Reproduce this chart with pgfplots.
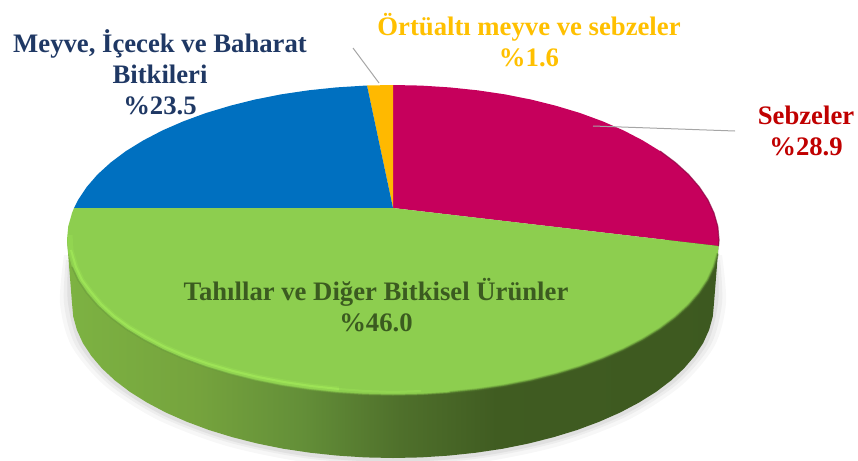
\documentclass[border=0pt]{standalone}
\usepackage{fontspec}
\setmainfont{Liberation Serif}
\usepackage{pgfplots}
\pgfplotsset{compat=1.18}
\definecolor{kirmizi}{HTML}{C6005C}
\definecolor{mavi}{HTML}{0070C0}
\definecolor{sari}{HTML}{FFB900}
\definecolor{yesil}{HTML}{8DCE4F}
\definecolor{parlak}{HTML}{A0E658}
\definecolor{yazikirmizi}{HTML}{C00000}
\definecolor{yazimavi}{HTML}{1F3864}
\definecolor{yazisari}{HTML}{FFC000}
\definecolor{yaziyesil}{HTML}{3B5B20}
\pgfdeclarehorizontalshading{yan}{100bp}{
  rgb(0bp)=(0.49,0.70,0.26);
  rgb(25bp)=(0.49,0.70,0.26);
  rgb(35bp)=(0.46,0.64,0.24);
  rgb(43bp)=(0.39,0.56,0.22);
  rgb(50.5bp)=(0.31,0.44,0.17);
  rgb(58bp)=(0.25,0.36,0.13);
  rgb(75bp)=(0.24,0.35,0.125);
  rgb(100bp)=(0.24,0.35,0.125)}
\begin{document}
\begin{tikzpicture}
\useasboundingbox (0,0) rectangle (858pt,460pt);
\clip (0,0) rectangle (858pt,460pt);
\begin{axis}[
  at={(0,0)}, anchor=south west,
  width=858pt, height=460pt, scale only axis,
  xmin=0, xmax=858, ymin=0, ymax=460,
  y dir=reverse,
  hide axis,
]
% golge
\addplot[draw=none, fill=black!3, smooth] coordinates {
  (64,255) (60,303) (71.4,345.7) (104.6,385.5) (157.5,419.7) (226.5,445.9) (306.8,462.4) (393,468)
  (479.2,462.4) (559.5,445.9) (628.5,419.7) (681.4,385.5) (714.6,345.7) (726,303) (722,255)};
\addplot[draw=none, fill=black!7, smooth] coordinates {
  (66,260) (64,303) (75.2,344.7) (108.1,383.5) (160.4,416.8) (228.5,442.4) (307.9,458.5) (393,464)
  (478.1,458.5) (557.5,442.4) (625.6,416.8) (677.9,383.5) (710.8,344.7) (722,303) (720,260)};
\addplot[draw=none, fill=black!12, smooth] coordinates {
  (68,265) (68,303) (79.1,344.2) (111.5,382.5) (163.2,415.4) (230.5,440.7) (308.9,456.6) (393,462)
  (477.1,456.6) (555.5,440.7) (622.8,415.4) (674.5,382.5) (706.9,344.2) (718,303) (718,265)};
% yan yuzey
\addplot[draw=none, shading=yan] coordinates {
  (67,240) (72,303) (73.2,316.5) (76.9,329.9) (82.9,343.1) (91.4,356) (102.1,368.5) (115,380.5)
  (130,391.9) (147.1,402.6) (166,412.6) (186.7,421.7) (208.9,430) (232.5,437.2) (257.3,443.5)
  (283.2,448.7) (309.9,452.7) (337.3,455.6) (365,457.4) (393,458) (421,457.4) (448.7,455.6)
  (476.1,452.7) (502.8,448.7) (528.7,443.5) (553.5,437.2) (577.1,430) (599.3,421.7) (620,412.6)
  (638.9,402.6) (656,391.9) (671,380.5) (683.9,368.5) (694.6,356) (703.1,343.1) (709.1,329.9)
  (712.8,316.5) (714,303) (719,240)} --cycle;
% dilimler
\addplot[draw=none, fill=kirmizi] coordinates {
  (393,208) (393,85) (421.4,85.6) (449.6,87.4) (477.4,90.3) (504.5,94.3) (530.8,99.5) (556,105.8)
  (580,113) (602.6,121.3) (623.5,130.4) (642.7,140.4) (660.1,151.1) (675.3,162.5) (688.5,174.5)
  (699.3,187) (707.9,199.9) (714,213.1) (717.8,226.5) (719,240) (718.5,246)} --cycle;
\addplot[draw=none, fill=sari] coordinates {
  (393,208) (367,85.5) (393,85)} --cycle;
\addplot[draw=none, fill=mavi] coordinates {
  (393,208) (367,85.5) (336.4,87.4) (308.6,90.3) (281.5,94.3) (255.2,99.5) (230,105.8) (206,113)
  (183.4,121.3) (162.5,130.4) (143.3,140.4) (125.9,151.1) (110.7,162.5) (97.5,174.5) (86.7,187)
  (78.1,199.9) (74,208)} --cycle;
\addplot[draw=none, fill=yesil] coordinates {
  (393,208) (74,208) (72,213.1) (68.2,226.5) (67,240) (68.2,253.5) (72,266.9) (78.1,280.1)
  (86.7,293) (97.5,305.5) (110.7,317.5) (125.9,328.9) (143.3,339.6) (162.5,349.6) (183.4,358.7)
  (206,367) (230,374.2) (255.2,380.5) (281.5,385.7) (308.6,389.7) (336.4,392.6) (364.6,394.4)
  (393,395) (421.4,394.4) (449.6,392.6) (477.4,389.7) (504.5,385.7) (530.8,380.5) (556,374.2)
  (580,367) (602.6,358.7) (623.5,349.6) (642.7,339.6) (660.1,328.9) (675.3,317.5) (688.5,305.5)
  (699.3,293) (707.9,280.1) (714,266.9) (717.8,253.5) (718.5,246)} --cycle;
% kenar
\addplot[color=kirmizi!70!black, line width=1.2pt, opacity=.7] coordinates {
  (660.1,151.1) (675.3,162.5) (688.5,174.5) (699.3,187) (707.9,199.9) (714,213.1) (717.8,226.5) (719,240) (718.5,246)};
\addplot[color=yesil!60!black, line width=3pt, opacity=.25] coordinates {
  (449.6,392.6) (477.4,389.7) (504.5,385.7) (530.8,380.5) (556,374.2) (580,367) (602.6,358.7)
  (623.5,349.6) (642.7,339.6) (660.1,328.9) (675.3,317.5) (688.5,305.5) (699.3,293) (707.9,280.1) (714,266.9) (717.8,253.5)};
\addplot[color=yesil!60!black, line width=1.5pt, opacity=.5] coordinates {
  (449.6,392.6) (477.4,389.7) (504.5,385.7) (530.8,380.5) (556,374.2) (580,367) (602.6,358.7)
  (623.5,349.6) (642.7,339.6) (660.1,328.9) (675.3,317.5) (688.5,305.5) (699.3,293) (707.9,280.1) (714,266.9) (717.8,253.5)};
\addplot[color=yesil!75!black, line width=1.5pt, opacity=.6] coordinates {
  (72,266.9) (78.1,280.1) (86.7,293) (97.5,305.5) (110.7,317.5) (125.9,328.9) (143.3,339.6) (162.5,349.6) (183.4,358.7)
  (206,367) (230,374.2) (255.2,380.5) (281.5,385.7) (308.6,389.7) (336.4,392.6) (364.6,394.4) (393,395) (421.4,394.4) (449.6,392.6)};
\addplot[color=parlak, line width=5pt, opacity=.3] coordinates {
  (70,235) (71,250) (76,267) (82,280) (91,292) (101,304) (114,316) (129,327) (146,337) (165,347)
  (186,356) (209,364) (233,371) (258,377) (284,382) (311,386) (339,389)};
\addplot[color=parlak, line width=2pt, opacity=.85] coordinates {
  (71,250) (76,267) (82,280) (91,292) (101,304) (114,316) (129,327) (146,337) (165,347)
  (186,356) (209,364) (233,371) (258,377) (284,382) (311,386) (339,389)};
\addplot[color=parlak, line width=2pt, opacity=.35] coordinates {
  (339,389) (365,391) (393,392) (421,391)};
% etiket cizgileri
\addplot[color=black!35, line width=1pt] coordinates {(353,48) (379,83)};
\addplot[color=black!35, line width=1pt] coordinates {(593,126) (735,131)};
% etiketler
\node[align=center, text=yazimavi, font=\fontsize{26.7}{31}\selectfont\bfseries] at (axis cs:160,72) {Meyve, İçecek ve Baharat\\Bitkileri\\\%23.5};
\node[align=center, text=yazisari, font=\fontsize{26.7}{31}\selectfont\bfseries] at (axis cs:529,40) {Örtüaltı meyve ve sebzeler\\\%1.6};
\node[align=center, text=yazikirmizi, font=\fontsize{26.7}{31}\selectfont\bfseries] at (axis cs:806,131) {Sebzeler\\\%28.9};
\node[align=center, text=yaziyesil, font=\fontsize{26.7}{31}\selectfont\bfseries] at (axis cs:376,305) {Tahıllar ve Diğer Bitkisel Ürünler\\\%46.0};
\end{axis}
\end{tikzpicture}
\end{document}
